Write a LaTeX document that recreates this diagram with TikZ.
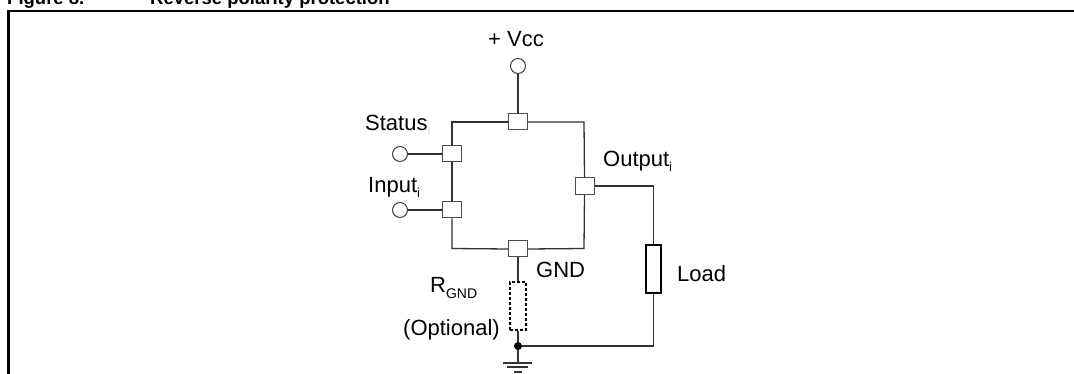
\documentclass[tikz,border=0pt]{standalone}
\usepackage{fontspec}
\setmainfont{Liberation Sans}
\begin{document}
\begin{tikzpicture}[x=1pt,y=-1pt,
  wire/.style={draw=black!80, line width=1.3pt},
  pin/.style={draw=black!70, fill=white, line width=1pt, rectangle, minimum width=19pt, minimum height=16pt, inner sep=0pt},
  term/.style={draw=black!75, fill=white, line width=1pt, circle, minimum size=15pt, inner sep=0pt},
  lbl/.style={anchor=base west, inner sep=0pt, font=\fontsize{22}{26}\selectfont},
  ttl/.style={anchor=base west, inner sep=0pt, font=\fontsize{18.5}{22}\selectfont\bfseries}]
\useasboundingbox (0,0) rectangle (1074,374);
% title (clipped at the top, as in the original) and frame
\node[ttl] (t1) at (7,4.5) {Figure 8.};
\node[ttl] (t2) at (150,4.5) {Reverse polarity protection};
\draw[line width=2.5pt, line cap=rect] (1080,11) -- (8.3,11) -- (8.3,380);
% corners
\coordinate (tl) at (452,122);
\coordinate (tr) at (584,122);
\coordinate (bl) at (452,248.5);
\coordinate (br) at (584,248.5);
\coordinate (oc) at (653.5,186);
\coordinate (lc) at (653.5,346);
\coordinate (jn) at (518,346);
\coordinate (gt) at (518,363);
% nodes
\node[term] (vcc) at (518,66) {};
\node[pin] (vbox) at (518,122) {};
\node[pin] (sbox) at (452,154) {};
\node[pin] (ibox) at (452,210) {};
\node[pin] (gbox) at (518,249) {};
\node[pin, minimum height=17pt] (obox) at (584.5,186) {};
\node[term] (sc) at (400,154) {};
\node[term] (ic) at (400,210) {};
\node[draw=black, line width=1.7pt, rectangle, minimum width=15pt, minimum height=48pt, inner sep=0pt] (load) at (653.5,269) {};
\node[draw=black, dashed, dash pattern=on 3pt off 2pt, line width=1.4pt, rectangle, minimum width=16pt, minimum height=48pt, inner sep=0pt] (rg) at (518,306) {};
% wires
\draw[wire] (vcc) -- (vbox);
\draw[wire] (vbox.west) -- (tl) -- (sbox.north);
\draw[wire] (sbox.south) -- (ibox.north);
\draw[wire] (ibox.south) -- (bl) -- (gbox.west);
\draw[wire] (gbox.east) -- (br) -- (obox.south);
\draw[wire] (obox.north) -- (tr) -- (vbox.east);
\draw[wire] (sc) -- (sbox);
\draw[wire] (ic) -- (ibox);
\draw[wire] (obox.east) -- (oc) -- (load.north);
\draw[wire] (load.south) -- (lc) -- (jn);
\draw[wire] (gbox.south) -- (rg.north);
\draw[wire] (rg.south) -- (jn) -- (gt);
\fill[black] (jn) circle (4pt);
\draw[wire] (503,363) -- (532,363);
\draw[wire] (507,367) -- (528,367);
\draw[wire] (514,372) -- (522,372);
% labels
\node[lbl] (lvcc) at (488,47) {+ Vcc};
\node[lbl] (lst) at (365,131) {Status\raisebox{-5pt}{\fontsize{13}{13}\selectfont\color{black!15}i}};
\node[lbl] (lin) at (368,193) {Input\raisebox{-5pt}{\fontsize{13}{13}\selectfont i}};
\node[lbl] (lout) at (603,167) {Output\raisebox{-5pt}{\fontsize{13}{13}\selectfont i}};
\node[lbl] (lgnd) at (536,278) {GND};
\node[lbl] (lload) at (677,281) {Load};
\node[lbl] (lr) at (430,292) {R\raisebox{-6pt}{\fontsize{14}{14}\selectfont GND}};
\node[lbl] (lopt) at (403,335) {(Optional)};
\end{tikzpicture}
\end{document}
